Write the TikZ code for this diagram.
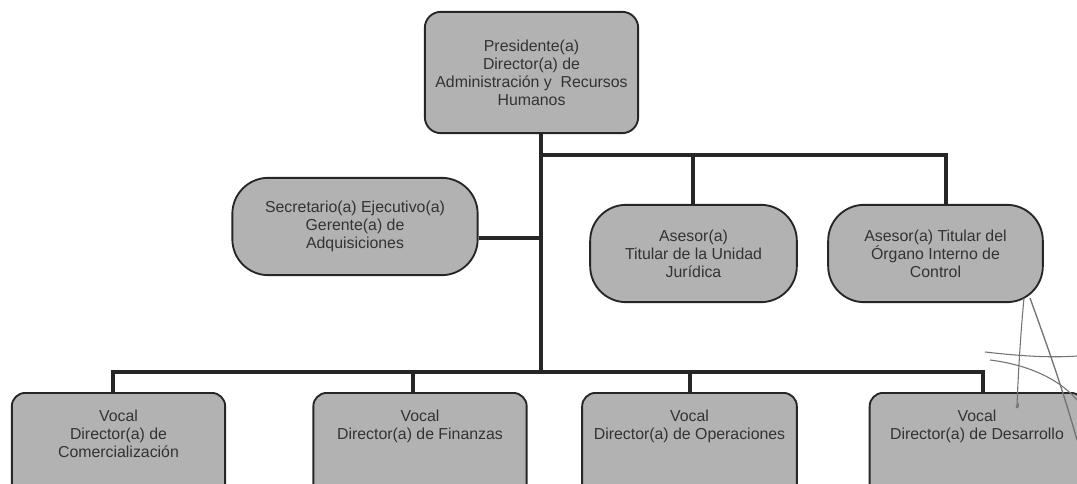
\documentclass[tikz,border=0pt]{standalone}
\usepackage{fontspec}
\setmainfont{Liberation Sans}
\begin{document}
\begin{tikzpicture}[x=0.75pt,y=-0.75pt,
  box/.style={draw=black!85,line width=1.4pt,fill=black!30,inner sep=0pt},
  txt/.style={align=center,font=\fontsize{11.9}{13.5}\selectfont,text=black!80,inner sep=0pt},
  conn/.style={line width=3.6pt,draw=black!85,line cap=rect},
  pen/.style={draw=black!55,line width=0.8pt}]
\useasboundingbox (0,0) rectangle (1077,484);
\begin{scope}
\clip (0,0) rectangle (1077,484);
% top
\node[box,rounded corners=12pt,minimum width=160pt,minimum height=91pt] (pres) at (531.5,72.5) {};
\node[txt] (prest) at (pres.center) {Presidente(a)\\Director(a) de\\Administración y~ Recursos\\Humanos};
% middle
\node[box,rounded corners=27pt,minimum width=184pt,minimum height=73pt] (sec) at (355,226.5) {};
\node[txt] (sect) at (sec.center) {Secretario(a) Ejecutivo(a)\\Gerente(a) de\\Adquisiciones};
\node[box,rounded corners=27pt,minimum width=155pt,minimum height=73pt] (ase) at (693.5,253.5) {};
\node[txt] (aset) at (ase.center) {Asesor(a)\\Titular de la Unidad\\Jurídica};
\node[box,rounded corners=27pt,minimum width=161pt,minimum height=73pt] (oic) at (935.5,253.5) {};
\node[txt] (oict) at (oic.center) {Asesor(a) Titular del\\Órgano Interno de\\Control};
% bottom
\node[box,rounded corners=10pt,minimum width=160pt,minimum height=90pt,anchor=north] (v1) at (118.5,392) {};
\node[txt,anchor=north] (v1t) at (118.5,410) {Vocal\\Director(a) de\\Comercialización};
\node[box,rounded corners=10pt,minimum width=160pt,minimum height=90pt,anchor=north] (v2) at (420,392) {};
\node[txt,anchor=north] (v2t) at (420,410) {Vocal\\Director(a) de Finanzas};
\node[box,rounded corners=10pt,minimum width=161pt,minimum height=90pt,anchor=north] (v3) at (689.5,392) {};
\node[txt,anchor=north] (v3t) at (689.5,410) {Vocal\\Director(a) de Operaciones};
\node[box,rounded corners=10pt,minimum width=161pt,minimum height=90pt,anchor=north] (v4) at (977,392) {};
\node[txt,anchor=north] (v4t) at (977,410) {Vocal\\Director(a) de Desarrollo};
% connectors
\coordinate (t1) at (541,155);
\coordinate (t2) at (541,372);
\coordinate (u1) at (693,155);
\coordinate (u2) at (946,155);
\coordinate (b1) at (113,372);
\coordinate (b2) at (413,372);
\coordinate (b3) at (690,372);
\coordinate (b4) at (983,372);
\draw[conn,line cap=butt] (pres.south -| t1) -- (t2);
\draw[conn,line cap=butt] (t1) -- (u2) -- (u2 |- oic.north);
\draw[conn,line cap=butt] (u1) -- (u1 |- ase.north);
\draw[conn,line cap=butt] (sec.east |- 0,238) -- (t1 |- 0,238);
\draw[conn,line cap=butt] (b1 |- v1.north) -- (b1) -- (b4) -- (b4 |- v4.north);
\draw[conn,line cap=butt] (b2) -- (b2 |- v2.north);
\draw[conn,line cap=butt] (b3) -- (b3 |- v3.north);
% pen strokes
\draw[pen] (1024,298) .. controls (1020,340) and (1018,380) .. (1017,405) .. controls (1014,408) and (1020,410) .. (1018,403);
\draw[pen,line width=1pt] (1030,298) .. controls (1045,340) and (1060,380) .. (1077,440);
\draw[pen] (985,352) .. controls (1020,356) and (1050,358) .. (1077,356);
\draw[pen] (990,360) .. controls (1030,365) and (1060,380) .. (1077,400);
\end{scope}
\end{tikzpicture}
\end{document}
